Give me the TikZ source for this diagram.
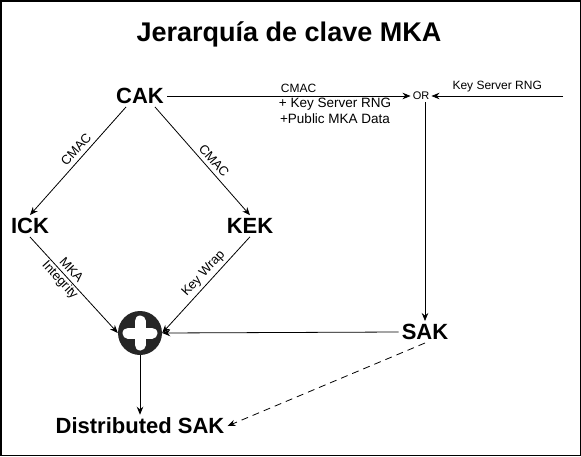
\documentclass[tikz,border=0pt]{standalone}
\usepackage{fontspec}
\setmainfont{Liberation Sans}
\usetikzlibrary{arrows.meta}

\begin{document}
\begin{tikzpicture}[x=1pt,y=-1pt,
    key/.style={font=\fontsize{22}{26}\selectfont\bfseries, inner sep=3pt},
    lbl/.style={font=\fontsize{13}{15}\selectfont, inner sep=4pt},
    arr/.style={-{Stealth[length=8pt,width=6.5pt]}, line width=0.8pt}]

    %Frame and title
    \draw[line width=1.5pt] (0.75,0.75) rectangle (580.25,455.25);
    \node[font=\fontsize{27}{31}\selectfont\bfseries] (title) at (289,34) {Jerarquía de clave MKA};

    %Keys
    \node[key] (cak) at (140,96) {CAK};
    \node[key] (ick) at (30,226) {ICK};
    \node[key] (kek) at (250,226) {KEK};
    \node[key] (sak) at (425,332) {SAK};
    \node[key] (dsak) at (140,426) {Distributed SAK};
    \node[font=\fontsize{11}{13}\selectfont, inner sep=2pt] (or) at (421,96) {OR};
    \coordinate (rng) at (563,96);

    %Combiner
    \node[circle, fill=black!85, minimum size=44pt, inner sep=0pt] (plus) at (140,333) {};
    \draw[white, line width=11pt, line cap=round] ([xshift=-12pt]plus.center) -- ([xshift=12pt]plus.center);
    \draw[white, line width=11pt, line cap=round] ([yshift=-12pt]plus.center) -- ([yshift=12pt]plus.center);

    %Derivation arrows
    \draw[arr] ([xshift=-14pt]cak.south) -- (ick.north) node[lbl, pos=0.45, sloped, above] {CMAC};
    \draw[arr] ([xshift=15pt]cak.south) -- (kek.north) node[lbl, pos=0.55, sloped, above] {CMAC};
    \draw[arr] (ick.south) -- (plus.west) node[lbl, pos=0.4, sloped, align=center, inner sep=0pt] {MKA\\Integrity};
    \draw[arr] (kek.south) -- (plus.east) node[lbl, pos=0.45, sloped, above, inner sep=3pt] {Key Wrap};

    %SAK generation
    \draw[arr] (cak.east) -- (or.west)
        node[font=\fontsize{12}{14}\selectfont, pos=0.54, above] {CMAC}
        node[font=\fontsize{13.5}{16}\selectfont, pos=0.69, below, align=center, inner sep=2pt] {+ Key Server RNG\\+Public MKA Data};
    \draw[arr] (rng) -- (or.east) node[font=\fontsize{12}{14}\selectfont, midway, above] {Key Server RNG};
    \draw[arr] (sak.north |- or.south) -- (sak.north);
    \draw[arr] (sak.west) -- (plus.east);

    %Distribution
    \draw[arr] (plus.south) -- (dsak.north);
    \draw[arr, dash pattern=on 7pt off 5pt] (sak.south) -- (dsak.east);
\end{tikzpicture}
\end{document}
